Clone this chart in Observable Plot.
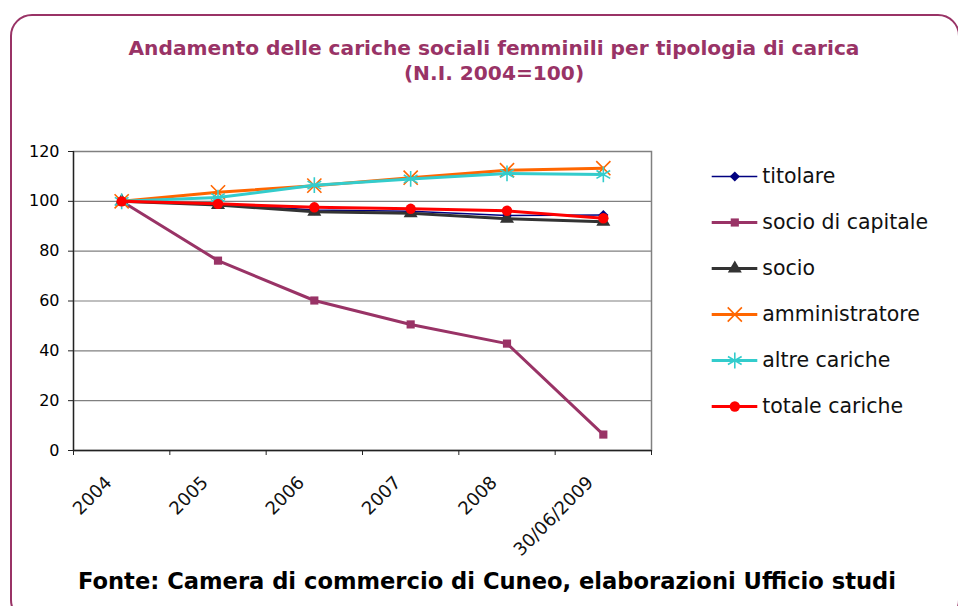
<!DOCTYPE html>
<html><head><meta charset="utf-8">
<script src="https://cdn.jsdelivr.net/npm/d3@7"></script>
<script src="https://cdn.jsdelivr.net/npm/@observablehq/plot@0.6"></script>
<style>
body{margin:0;background:#fff;}
#wrap{position:relative;width:958px;height:606px;overflow:hidden;background:#fff;}
#border{position:absolute;left:10px;top:14px;width:950px;height:608px;box-sizing:border-box;border:2.6px solid #993366;border-radius:22px;}
#main{position:absolute;left:0;top:0;}
#legend{position:absolute;left:700px;top:150px;}
</style></head>
<body>
<div id="wrap"><div id="border"></div><div id="main"></div><div id="legend"></div></div>
<script>
// ---- data ----
const categories = ["2004", "2005", "2006", "2007", "2008", "30/06/2009"];
const seriesNames = ["titolare", "socio di capitale", "socio", "amministratore", "altre cariche", "totale cariche"];
const titolare = [100, 99, 96.5, 96, 94.3, 94.5];
const socioDiCapitale = [100, 76.2, 60.2, 50.6, 42.9, 6.4];
const socio = [100, 98.5, 95.8, 95.2, 93, 91.8];
const amministratore = [100, 103.6, 106.3, 109.5, 112.5, 113.3];
const altreCariche = [100, 101.5, 106.5, 109, 111.2, 110.8];
const totaleCariche = [100, 99, 97.6, 97, 96.2, 93.2];
const yTicks = [0, 20, 40, 60, 80, 100, 120];
const titleLines = ["Andamento delle cariche sociali femminili per tipologia di carica", "(N.I. 2004=100)"];
const caption = "Fonte: Camera di commercio di Cuneo, elaborazioni Ufficio studi";

// ---- styles ----
const look = {
  "titolare": {color: "#000080", width: 1.6, symbol: "diamond2", r: 4.6, filled: true},
  "socio di capitale": {color: "#993366", width: 3, symbol: "square", r: 4.6, filled: true},
  "socio": {color: "#333333", width: 3, symbol: "triangle", r: 5.2, filled: true},
  "amministratore": {color: "#FF6600", width: 3, symbol: "times", r: 6.5, filled: false},
  "altre cariche": {color: "#33CCCC", width: 3, symbol: "asterisk", r: 7.5, filled: false},
  "totale cariche": {color: "#FF0000", width: 3, symbol: "circle", r: 5.2, filled: true}
};

const seriesData = [titolare, socioDiCapitale, socio, amministratore, altreCariche, totaleCariche];
const rows = seriesNames.flatMap((s, k) => seriesData[k].map((v, i) => ({series: s, i, value: v})));

function seriesMarks(s, data, xOpt, yOpt) {
  const L = look[s];
  return Plot.dot(data, {
    x: xOpt, y: yOpt, symbol: () => L.symbol, r: L.r,
    ...(L.filled ? {fill: L.color, stroke: "none"} : {fill: "none", stroke: L.color, strokeWidth: 1.6})
  });
}

const marks = [
  Plot.gridY(yTicks, {stroke: "#808080", strokeOpacity: 1, strokeWidth: 1.2}),
  Plot.frame({stroke: "#808080", strokeWidth: 1.5}),
  Plot.ruleX([-0.5], {stroke: "#222", strokeWidth: 1.3}),
  Plot.ruleY([0], {stroke: "#222", strokeWidth: 1.3}),
  Plot.axisY(yTicks, {tickSize: 5, tickPadding: 9, fontSize: 16, label: null, stroke: "#222"}),
  Plot.axisX(d3.range(-0.5, categories.length, 1), {tickSize: 5, tickFormat: () => "", label: null, stroke: "#222"}),
  Plot.text(categories, {x: (d, i) => i, text: d => d, frameAnchor: "bottom", rotate: -45, textAnchor: "end", lineAnchor: "middle", dx: -13, dy: 29, fontSize: 18, fill: "#111"})
];
for (const s of seriesNames) {
  const data = rows.filter(d => d.series === s);
  marks.push(Plot.line(data, {x: "i", y: "value", stroke: look[s].color, strokeWidth: look[s].width}));
  marks.push(seriesMarks(s, data, "i", "value"));
}

const chart = Plot.plot({
  width: 958, height: 606,
  marginLeft: 73, marginRight: 307, marginTop: 151, marginBottom: 156,
  x: {domain: [-0.5, 5.5]},
  y: {domain: [0, 120]},
  style: {fontFamily: "'DejaVu Sans', sans-serif", background: "transparent", color: "#000"},
  marks
});
document.getElementById("main").appendChild(chart);

// title and caption, fitted to the reference widths
const svg = d3.select(chart);
function fitText(t, x, y, width, size, color) {
  const node = svg.append("text").attr("x", x).attr("y", y).attr("text-anchor", "middle")
    .attr("font-family", "'DejaVu Sans', sans-serif").attr("font-weight", "bold")
    .attr("font-size", size).attr("fill", color).text(t).node();
  const w = node.getComputedTextLength();
  if (w > 0) node.setAttribute("font-size", (size * width / w).toFixed(2));
}
fitText(titleLines[0], 494, 55, 731, 18, "#993366");
svg.select("text:last-child");
{
  const first = svg.selectAll("text").nodes().pop();
  const fs = first.getAttribute("font-size");
  svg.append("text").attr("x", 494).attr("y", 80).attr("text-anchor", "middle")
    .attr("font-family", "'DejaVu Sans', sans-serif").attr("font-weight", "bold")
    .attr("font-size", fs).attr("fill", "#993366").text(titleLines[1]);
}
fitText(caption, 487, 589, 818, 18, "#000");

// legend
const legendMarks = [];
for (const s of seriesNames) {
  legendMarks.push(Plot.ruleY([s], {x1: 11.7, x2: 57.3, stroke: look[s].color, strokeWidth: look[s].width}));
  legendMarks.push(seriesMarks(s, [s], 34.3, d => d));
}
legendMarks.push(Plot.text(seriesNames, {x: 61.7, y: d => d, text: d => d, textAnchor: "start", lineAnchor: "middle", fontSize: 20.5, fill: "#111"}));
const legend = Plot.plot({
  width: 258, height: 280, margin: 0,
  x: {domain: [0, 258], range: [0, 258], axis: null},
  y: {type: "point", domain: seriesNames, range: [25, 256.7], padding: 0, axis: null},
  style: {fontFamily: "'DejaVu Sans', sans-serif", background: "transparent"},
  marks: legendMarks
});
document.getElementById("legend").appendChild(legend);
</script>
</body></html>
